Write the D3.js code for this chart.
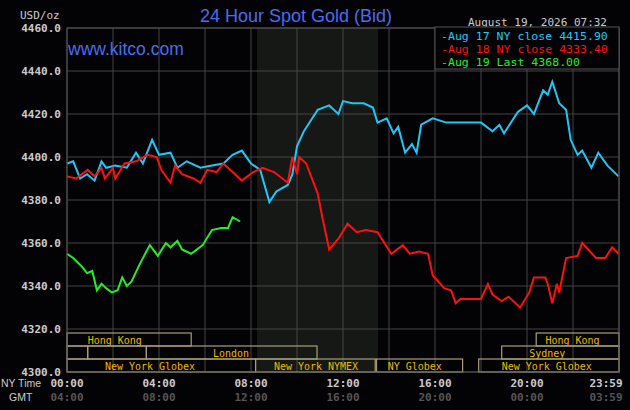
<!DOCTYPE html>
<html><head><meta charset="utf-8">
<script src="https://cdn.jsdelivr.net/npm/d3@7"></script>
<style>body{margin:0;background:#000}svg{display:block}</style>
</head><body><svg></svg>
<script>
// hours since 00:00 NY time, prices in USD/oz
const aug17H = [0,0.27,0.57,0.87,1.2,1.5,1.7,2.1,2.6,3.0,3.3,3.7,4.0,4.5,4.8,5.2,5.8,6.3,6.8,7.2,7.6,8.0,8.4,8.8,9.1,9.6,9.8,10.0,10.3,10.9,11.4,11.8,12.0,12.4,12.9,13.3,13.5,13.9,14.2,14.4,14.7,15.0,15.2,15.4,15.9,16.5,17.1,18.0,18.5,18.8,19.0,19.6,20.0,20.3,20.7,20.9,21.1,21.4,21.7,21.9,22.2,22.4,22.8,23.1,23.5,23.98]
const aug17V = [4397,4398,4390,4392,4389,4398,4395,4396,4395,4402,4397,4408,4401,4402,4395,4398,4395,4396,4397,4401,4403,4397,4394,4379,4384,4387,4392,4405,4412,4422,4424,4420,4426,4425,4425,4423,4416,4418,4411,4414,4402,4406,4402,4415,4418,4416,4416,4416,4412,4415,4411,4421,4424,4420,4431,4429,4435,4425,4422,4408,4401,4403,4395,4402,4396,4391]
const aug18H = [0,0.4,0.9,1.2,1.5,1.65,2.0,2.1,2.5,3.0,3.5,3.9,4.1,4.5,4.7,5.0,5.5,5.8,6.1,6.5,6.8,7.2,7.6,8.1,8.5,9.0,9.6,9.8,10.0,10.1,10.4,10.9,11.1,11.4,11.8,12.2,12.6,13.0,13.5,14.1,14.6,14.9,15.3,15.7,15.9,16.4,16.7,16.9,17.1,18.0,18.3,18.5,18.9,19.2,19.7,20.1,20.3,20.8,20.9,21.1,21.3,21.4,21.7,22.2,22.4,23.0,23.4,23.7,23.98]
const aug18V = [4391,4390,4394,4391,4395,4390,4395,4390,4397,4398,4401,4400,4394,4388,4396,4392,4390,4388,4394,4393,4397,4393,4389,4393,4395,4393,4388,4400,4392,4400,4397,4383,4372,4357,4362,4369,4365,4366,4365,4355,4359,4355,4356,4355,4345,4339,4338,4332,4334,4334,4341,4336,4333,4335,4330,4337,4344,4344,4341,4332,4341,4337,4353,4354,4360,4353,4353,4358,4355]
const aug19H = [0,0.27,0.65,0.87,1.1,1.3,1.5,1.7,1.95,2.2,2.4,2.6,2.8,3.2,3.6,3.95,4.3,4.5,4.8,5.0,5.4,5.9,6.3,6.7,7.0,7.2,7.53]
const aug19V = [4355,4353,4349,4346,4347,4338,4341,4339,4337,4338,4344,4340,4342,4351,4359,4354,4360,4358,4361,4357,4355,4359,4366,4367,4367,4372,4370]
const yTicks = [4300,4320,4340,4360,4380,4400,4420,4440,4460]
const nyLabels = ['00:00','04:00','08:00','12:00','16:00','20:00','23:59']
const gmtLabels = ['04:00','08:00','12:00','16:00','20:00','00:00','03:59']
const labelHours = [0,4,8,12,16,20,24]
const legendText = ['Aug 17 NY close 4415.90','Aug 18 NY close 4333.40','Aug 19 Last 4368.00']
// sessions: [row, start, end, label, label start hour]
const sessions = [
  [0,0,5.4,'Hong Kong',0.9],[0,20.4,24,'Hong Kong',20.8],
  [1,0,0.9,'',0],[1,0.9,3.45,'',0],[1,3.45,10.87,'London',6.35],[1,18.9,24,'Sydney',20.1],
  [2,0,8.2,'New York Globex',1.65],[2,8.2,13.4,'New York NYMEX',9.0],[2,13.45,17.2,'NY Globex',13.95],[2,17.9,24,'New York Globex',18.9]
]

const width = 630, height = 410
const svg = d3.select('svg').attr('width', width).attr('height', height)
svg.append('rect').attr('width', width).attr('height', height).attr('fill', '#030305')

const x = d3.scaleLinear().domain([0, 24]).range([67, 619])
const y = d3.scaleLinear().domain([4300, 4460]).range([372, 28])
const mono = 'DejaVu Sans Mono, monospace'

// shaded NYMEX window
svg.append('rect').attr('x', x(8.26)).attr('y', y(4460)).attr('width', x(13.52) - x(8.26))
  .attr('height', y(4300) - y(4460)).attr('fill', '#161816')

// grid
svg.selectAll('.hg').data(yTicks).enter().append('line')
  .attr('x1', x(0)).attr('x2', x(24)).attr('y1', d => y(d)).attr('y2', d => y(d))
  .attr('stroke', '#444').attr('stroke-width', 1)
svg.selectAll('.vg').data(d3.range(0, 25, 2)).enter().append('line')
  .attr('x1', d => x(d)).attr('x2', d => x(d)).attr('y1', y(4460)).attr('y2', y(4300))
  .attr('stroke', '#444').attr('stroke-width', 1)

// sessions
const rowTop = [333, 346, 359], rowH = 13
const sg = svg.selectAll('.sess').data(sessions).enter().append('g')
sg.append('rect').attr('x', d => x(d[1])).attr('y', d => rowTop[d[0]]).attr('width', d => x(d[2]) - x(d[1]))
  .attr('height', rowH).attr('fill', 'none').attr('stroke', '#a8a070').attr('stroke-width', 1.2)
sg.filter(d => d[3]).append('text').attr('x', d => x(d[4])).attr('y', d => rowTop[d[0]] + 10.5).text(d => d[3])
  .attr('textLength', d => d[3].length * 6).attr('lengthAdjust', 'spacingAndGlyphs')
  .attr('fill', '#f0b800').attr('font-family', mono).attr('font-size', 11)

// lines
const line = d3.line().x(d => x(d[0])).y(d => y(d[1]))
const series = [[aug17H, aug17V, '#1ec8f5'], [aug18H, aug18V, '#ff1010'], [aug19H, aug19V, '#20f020']]
series.forEach(s => {
  svg.append('path').datum(d3.zip(s[0], s[1])).attr('d', line)
    .attr('fill', 'none').attr('stroke', s[2]).attr('stroke-width', 2)
})

// frame
svg.append('rect').attr('x', x(0)).attr('y', y(4460)).attr('width', x(24) - x(0)).attr('height', y(4300) - y(4460))
  .attr('fill', 'none').attr('stroke', '#555')

// y axis labels
svg.selectAll('.yl').data(yTicks).enter().append('text')
  .attr('x', 61).attr('y', d => y(d) + 4).attr('text-anchor', 'end').text(d => d.toFixed(1))
  .attr('fill', '#ccc').attr('font-family', mono).attr('font-size', 11).attr('font-weight', 'bold')
svg.append('text').attr('x', 20).attr('y', 19).text('USD/oz').attr('fill', '#ccc').attr('font-family', mono).attr('font-size', 11)

// x labels
svg.selectAll('.xl').data(labelHours).enter().append('text')
  .attr('x', d => Math.min(x(d), 606)).attr('y', 387).attr('text-anchor', 'middle').text((d, i) => nyLabels[i])
  .attr('fill', '#ccc').attr('font-family', mono).attr('font-size', 11).attr('font-weight', 'bold')
svg.selectAll('.gl').data(labelHours).enter().append('text')
  .attr('x', d => Math.min(x(d), 606)).attr('y', 401).attr('text-anchor', 'middle').text((d, i) => gmtLabels[i])
  .attr('fill', '#555').attr('font-family', mono).attr('font-size', 11).attr('font-weight', 'bold')
svg.append('text').attr('x', 1).attr('y', 387).text('NY Time').attr('fill', '#ccc')
  .attr('font-family', 'Liberation Sans Narrow, Arial Narrow, sans-serif').attr('font-size', 10.5)
svg.append('text').attr('x', 9).attr('y', 401).text('GMT').attr('fill', '#ccc')
  .attr('font-family', 'Liberation Sans Narrow, Arial Narrow, sans-serif').attr('font-size', 10.5)

// title
svg.append('text').attr('x', 296).attr('y', 22).attr('text-anchor', 'middle').text('24 Hour Spot Gold (Bid)')
  .attr('fill', '#4a6cf0').attr('font-family', 'Liberation Sans, Arial, sans-serif').attr('font-size', 18)
svg.append('text').attr('x', 68).attr('y', 55).text('www.kitco.com')
  .attr('fill', '#4a6cf0').attr('font-family', 'Liberation Sans, Arial, sans-serif').attr('font-size', 17.5)
svg.append('text').attr('x', 607).attr('y', 26).attr('text-anchor', 'end').text('August 19, 2026 07:32')
  .attr('fill', '#ccc').attr('font-family', mono).attr('font-size', 11)

// legend
const lg = svg.append('g')
lg.append('rect').attr('x', 435).attr('y', 27).attr('width', 184).attr('height', 42).attr('fill', '#030305').attr('stroke', '#555')
lg.selectAll('text').data(legendText).enter().append('text')
  .attr('x', 441).attr('y', (d, i) => 40 + i * 13).text(d => '-' + d)
  .attr('textLength', d => (d.length + 1) * 6.95).attr('lengthAdjust', 'spacingAndGlyphs')
  .attr('fill', (d, i) => series[i][2]).attr('font-family', mono).attr('font-size', 11)
</script></body></html>
